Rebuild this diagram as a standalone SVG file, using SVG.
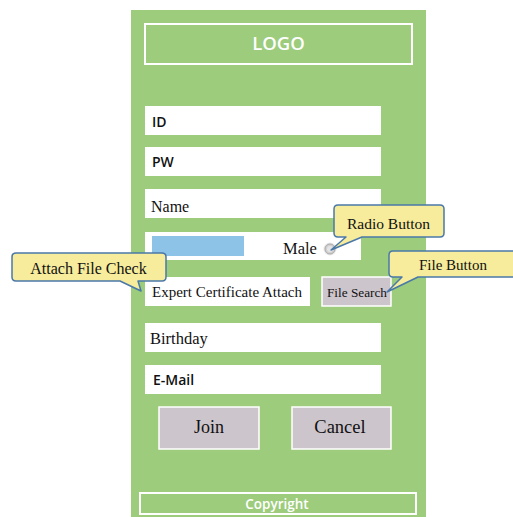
<svg xmlns="http://www.w3.org/2000/svg" width="513" height="517" viewBox="0 0 513 517">
<style>
.field{fill:#ffffff}
.btn{fill:#cdc5cc;stroke:#ffffff;stroke-width:1.5}
.callout{fill:#f6ec9c;stroke:#4a78a8;stroke-width:1.5;stroke-linejoin:round}
.sans{font-family:"Open Sans","Noto Sans",sans-serif;font-weight:600;fill:#111}
.serif{font-family:"Liberation Serif","Times New Roman",serif;fill:#111}
.white{font-family:"Open Sans","Noto Sans",sans-serif;font-weight:600;fill:#ffffff}
</style>
<rect x="0" y="0" width="513" height="517" fill="#ffffff"/>
<g id="panel">
<rect x="131" y="10" width="295" height="507" fill="#9ccc7c"/>
</g>
<g id="logo">
<rect x="145" y="24" width="267" height="40" fill="none" stroke="#ffffff" stroke-width="2"/>
<text x="278.5" y="50" class="white" font-size="18.5" text-anchor="middle">LOGO</text>
</g>
<g id="id-field">
<rect x="145" y="106" width="236" height="29" class="field"/>
<text x="152" y="127" class="sans" font-size="14">ID</text>
</g>
<g id="pw-field">
<rect x="145" y="147" width="236" height="29" class="field"/>
<text x="152" y="167" class="sans" font-size="14">PW</text>
</g>
<g id="name-field">
<rect x="145" y="189" width="236" height="29" class="field"/>
<text x="151" y="212" class="serif" font-size="16">Name</text>
</g>
<g id="gender-field">
<rect x="145" y="232" width="216" height="28" class="field"/>
<rect x="152" y="236" width="92" height="20" fill="#8ec3e8"/>
<text x="283" y="254" class="serif" font-size="16.5">Male</text>
<circle cx="330" cy="249" r="6.5" fill="#e8e8e8"/>
<circle cx="330" cy="249" r="5" fill="#d0d0d0" stroke="#aaaaaa" stroke-width="1"/>
<circle cx="330" cy="249" r="3" fill="#e4e4e4"/>
</g>
<g id="cert-field">
<rect x="145" y="277" width="165" height="29" class="field"/>
<text x="152" y="297" class="serif" font-size="14.5" textLength="150" lengthAdjust="spacingAndGlyphs">Expert Certificate Attach</text>
</g>
<g id="file-search">
<rect x="322" y="277" width="69" height="29" class="btn"/>
<text x="357" y="297" class="serif" font-size="13" text-anchor="middle" textLength="60" lengthAdjust="spacingAndGlyphs">File Search</text>
</g>
<g id="birthday-field">
<rect x="145" y="323" width="236" height="29" class="field"/>
<text x="150" y="344" class="serif" font-size="16.5">Birthday</text>
</g>
<g id="email-field">
<rect x="145" y="365" width="236" height="29" class="field"/>
<text x="153" y="385" class="sans" font-size="14">E-Mail</text>
</g>
<g id="join">
<rect x="159" y="407" width="100" height="42" class="btn"/>
<text x="209" y="433" class="serif" font-size="18" text-anchor="middle">Join</text>
</g>
<g id="cancel">
<rect x="292" y="407" width="99" height="42" class="btn"/>
<text x="340" y="433" class="serif" font-size="18.5" text-anchor="middle">Cancel</text>
</g>
<g id="copyright">
<rect x="140" y="493" width="276" height="21" fill="none" stroke="#ffffff" stroke-width="2"/>
<text x="277" y="509" class="white" font-size="13.5" text-anchor="middle">Copyright</text>
</g>
<g id="connectors">
<g id="radio-callout">
<path d="M338,205 H440 Q444,205 444,209 V233 Q444,237 440,237 H362 L331,250 L346,237 H338 Q334,237 334,233 V209 Q334,205 338,205 Z" class="callout"/>
<text x="388.5" y="229" class="serif" font-size="15.5" text-anchor="middle">Radio Button</text>
</g>
<g id="file-callout">
<path d="M393,251 H520 V277 H418 L387,292 L402,277 H393 Q389,277 389,273 V255 Q389,251 393,251 Z" class="callout"/>
<text x="453" y="270" class="serif" font-size="15" text-anchor="middle">File Button</text>
</g>
<g id="attach-callout">
<path d="M16,253 H162 Q166,253 166,257 V277 Q166,281 162,281 H138 L141,291 L120,281 H16 Q12,281 12,277 V257 Q12,253 16,253 Z" class="callout"/>
<text x="88.5" y="274" class="serif" font-size="16" text-anchor="middle">Attach File Check</text>
</g>
</g>
</svg>
